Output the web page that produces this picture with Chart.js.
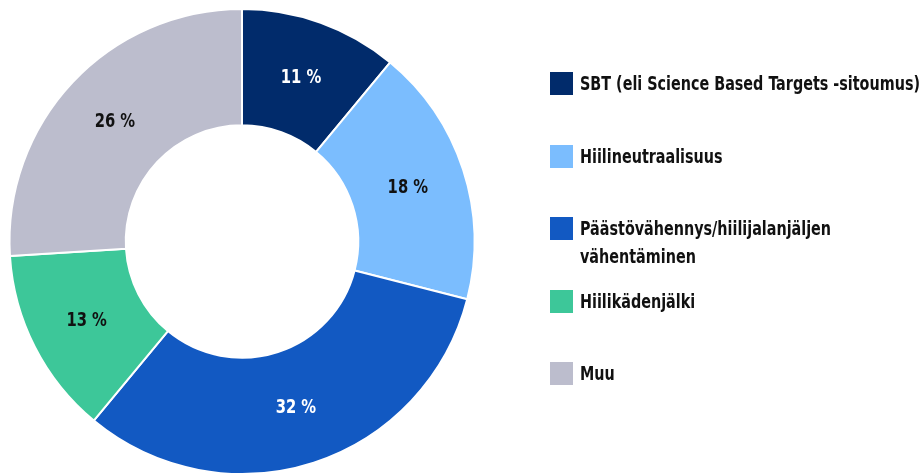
<!DOCTYPE html>
<html>
<head>
<meta charset="utf-8">
<script src="https://cdn.jsdelivr.net/npm/chart.js@4"></script>
<style>
  body { margin: 0; background: #fff; }
  #wrap { position: relative; width: 924px; height: 475px; overflow: hidden; }
  #legend { position: absolute; left: 550px; top: 0; width: 374px;
    font-family: "DejaVu Sans Condensed", "DejaVu Sans", sans-serif;
    font-weight: bold; font-size: 19px; color: #111; }
  .item { position: absolute; left: 0; display: flex; align-items: flex-start; }
  .box { width: 23px; height: 23px; flex: none; }
  .txt { margin-left: 7px; line-height: 28px; margin-top: -3px; white-space: nowrap;
    transform: scaleX(0.84); transform-origin: left top; }
</style>
</head>
<body>
<div id="wrap">
  <canvas id="statsGraph" width="924" height="475"></canvas>
  <div id="legend"></div>
</div>
<script>
// values
var labels = ['SBT (eli Science Based Targets -sitoumus)', 'Hiilineutraalisuus',
  ['Päästövähennys/hiilijalanjäljen', 'vähentäminen'], 'Hiilikädenjälki', 'Muu']
var data = [11, 18, 32, 13, 26]
var colors = ['#012b6b', '#7bbdfe', '#1259c2', '#3dc799', '#bcbdcd']
var labelColors = ['#ffffff', '#111111', '#ffffff', '#111111', '#111111']

var fontFam = '"DejaVu Sans Condensed", "DejaVu Sans", sans-serif'

// MARK: percent labels inside the slices
var sliceLabels = {
  id: 'sliceLabels',
  afterDatasetsDraw: function (chart) {
    var ctx = chart.ctx
    var meta = chart.getDatasetMeta(0)
    ctx.font = 'bold 20px ' + fontFam
    ctx.textAlign = 'center'
    ctx.textBaseline = 'middle'
    meta.data.forEach(function (arc, i) {
      var p = arc.tooltipPosition()
      ctx.save()
      ctx.translate(p.x, p.y)
      ctx.scale(0.82, 1)
      ctx.fillStyle = labelColors[i]
      ctx.fillText(data[i] + ' %', 0, 0)
      ctx.restore()
    })
  }
}

var ctx = document.getElementById('statsGraph');
var myChart = new Chart(ctx, {
  type: 'doughnut',
  data: {
    labels: labels,
    datasets: [{
      data: data,
      backgroundColor: colors,
      borderColor: '#ffffff',
      borderWidth: 2
    }]
  },
  options: {
    responsive: false,
    animation: false,
    cutout: '50%',
    layout: { padding: { left: 8, top: 8, right: 448, bottom: 0 } },
    plugins: {
      legend: { display: false },
      tooltip: { enabled: false }
    }
  },
  plugins: [sliceLabels]
});

// MARK: legend on the right
var legend = document.getElementById('legend')
labels.forEach(function (name, i) {
  var text = Array.isArray(name) ? name.join('<br>') : name
  var item = document.createElement('div')
  item.className = 'item'
  item.style.top = (72 + i * 72.5) + 'px'
  item.innerHTML = '<div class="box" style="background:' + colors[i] + '"></div><div class="txt">' + text + '</div>'
  legend.appendChild(item)
})
</script>
</body>
</html>
